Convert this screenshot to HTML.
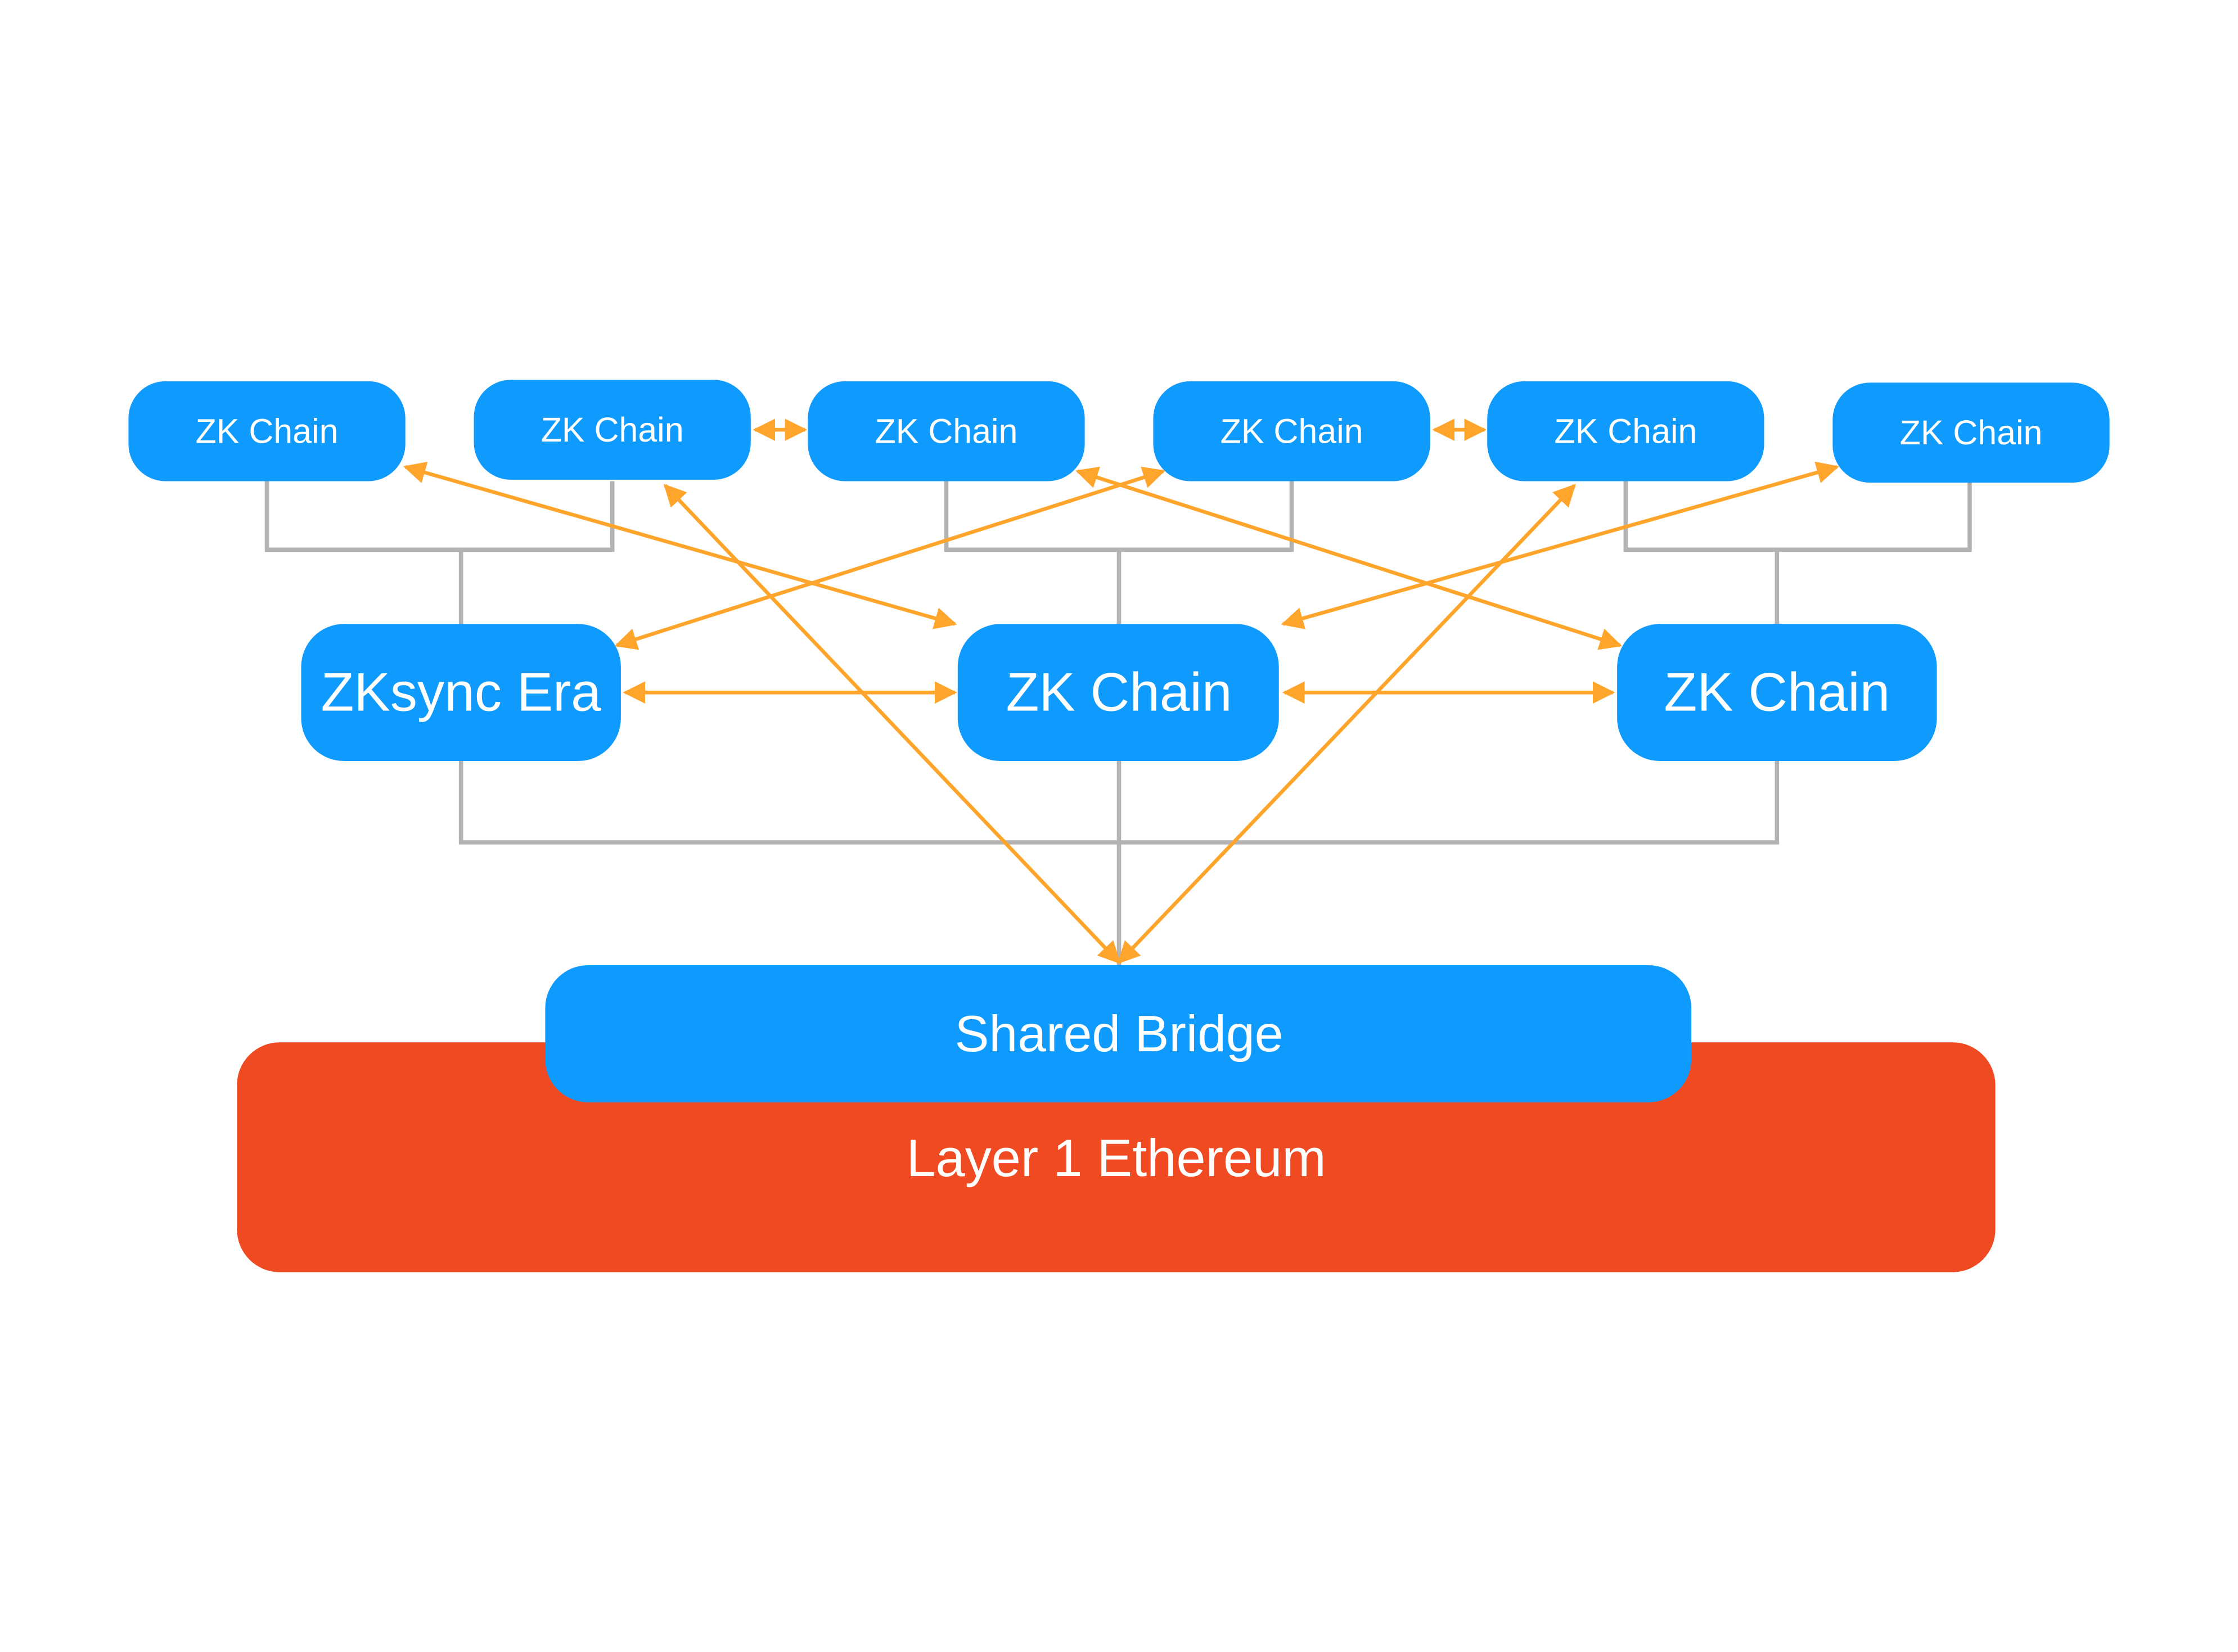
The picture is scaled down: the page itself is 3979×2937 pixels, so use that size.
<!DOCTYPE html>
<html><head><meta charset="utf-8"><style>
html,body{margin:0;padding:0;background:#fff;}
svg{display:block;}
text{font-family:"Liberation Sans",sans-serif;fill:#fff;text-anchor:middle;dominant-baseline:central;}
</style></head><body>
<svg width="3979" height="2937" viewBox="0 0 1568 1157" preserveAspectRatio="none" xmlns="http://www.w3.org/2000/svg">
<defs>
<marker id="a" viewBox="0 0 10 10" refX="9" refY="5" markerWidth="6" markerHeight="6" orient="auto-start-reverse" markerUnits="strokeWidth">
<path d="M0,0 L10,5 L0,10 z" fill="#FFA52B"/>
</marker>
</defs>
<rect x="166" y="730" width="1232" height="161" rx="30" fill="#F04A23"/>
<text x="782" y="811" font-size="37">Layer 1 Ethereum</text>
<g fill="none" stroke="#B3B3B3" stroke-width="3">
<path d="M187,337 V385 H323 M429,337 V385 H323 M323,385 V437"/>
<path d="M663,337 V385 H784 M905,337 V385 H784 M784,385 V437"/>
<path d="M1139,337 V385 H1245 M1380,337 V385 H1245 M1245,385 V437"/>
<path d="M323,533 V590 H784 M1245,533 V590 H784 M784,533 V676"/>
</g>
<rect x="382" y="676" width="803" height="96" rx="30" fill="#0F9AFE"/>
<text x="784" y="724" font-size="36">Shared Bridge</text>
<g fill="#0F9AFE">
<rect x="90" y="267" width="194" height="70" rx="26"/>
<rect x="332" y="266" width="194" height="70" rx="26"/>
<rect x="566" y="267" width="194" height="70" rx="26"/>
<rect x="808" y="267" width="194" height="70" rx="26"/>
<rect x="1042" y="267" width="194" height="70" rx="26"/>
<rect x="1284" y="268" width="194" height="70" rx="26"/>
<rect x="211" y="437" width="224" height="96" rx="30"/>
<rect x="671" y="437" width="225" height="96" rx="30"/>
<rect x="1133" y="437" width="224" height="96" rx="30"/>
</g>
<g font-size="24">
<text x="187" y="302">ZK Chain</text>
<text x="429" y="301">ZK Chain</text>
<text x="663" y="302">ZK Chain</text>
<text x="905" y="302">ZK Chain</text>
<text x="1139" y="302">ZK Chain</text>
<text x="1381" y="303">ZK Chain</text>
</g>
<g font-size="38">
<text x="323" y="485">ZKsync Era</text>
<text x="784" y="485">ZK Chain</text>
<text x="1245" y="485">ZK Chain</text>
</g>
<g fill="none" stroke="#FFA52B" stroke-width="2.6" marker-start="url(#a)" marker-end="url(#a)">
<line x1="284" y1="327" x2="669" y2="437"/>
<line x1="466" y1="340" x2="784" y2="674"/>
<line x1="815" y1="330" x2="432" y2="452"/>
<line x1="755" y1="330" x2="1135" y2="452"/>
<line x1="1103" y1="340" x2="784" y2="674"/>
<line x1="1287" y1="327" x2="899" y2="437"/>
<line x1="438" y1="485" x2="669" y2="485"/>
<line x1="900" y1="485" x2="1130" y2="485"/>
<line x1="529" y1="301" x2="564" y2="301"/>
<line x1="1005" y1="301" x2="1040" y2="301"/>
</g>
</svg>
</body></html>
